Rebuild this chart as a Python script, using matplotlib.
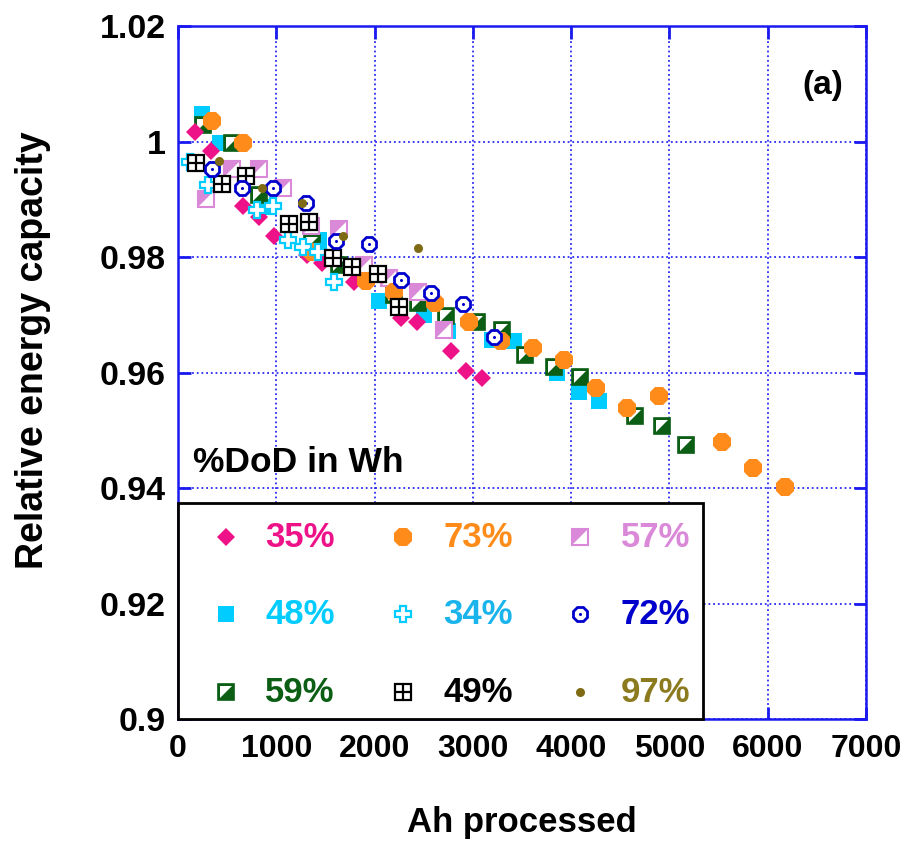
import matplotlib
matplotlib.use("Agg")
import matplotlib.pyplot as plt
from matplotlib.patches import Rectangle

plt.rcParams['font.family'] = ['Liberation Sans', 'DejaVu Sans']
plt.rcParams['font.weight'] = 'bold'

# ---- data: relative energy capacity vs Ah processed, one series per %DoD ----
ah_35 = [169, 333, 661, 825, 978, 1317, 1470, 1788, 2270, 2433, 2782, 2935, 3089]
cap_35 = [1.0017, 0.9983, 0.9889, 0.9870, 0.9837, 0.9803, 0.9789, 0.9756, 0.9695, 0.9688, 0.9638, 0.9602, 0.9591]

ah_73 = [343, 661, 1368, 1911, 2197, 2613, 2961, 3289, 3607, 3924, 4252, 4570, 4898, 5533, 5851, 6178]
cap_73 = [1.0036, 0.9998, 0.9809, 0.9758, 0.9739, 0.9720, 0.9688, 0.9654, 0.9643, 0.9621, 0.9574, 0.9539, 0.9560, 0.9479, 0.9435, 0.9401]

ah_57 = [282, 548, 825, 1071, 1358, 1634, 1890, 2146, 2444, 2710]
cap_57 = [0.9900, 0.9952, 0.9952, 0.9920, 0.9853, 0.9848, 0.9787, 0.9764, 0.9740, 0.9674]

ah_48 = [241, 425, 866, 1430, 2044, 2505, 2751, 3192, 3417, 3857, 4083, 4288]
cap_48 = [1.0047, 0.9998, 0.9887, 0.9830, 0.9723, 0.9700, 0.9671, 0.9657, 0.9654, 0.9600, 0.9567, 0.9550]

ah_34 = [118, 302, 804, 968, 1122, 1276, 1429, 1583]
cap_34 = [0.9965, 0.9924, 0.9882, 0.9889, 0.9830, 0.9818, 0.9809, 0.9756]

ah_72 = [343, 651, 968, 1306, 1604, 1942, 2270, 2577, 2895, 3212]
cap_72 = [0.9953, 0.9920, 0.9919, 0.9893, 0.9827, 0.9823, 0.9761, 0.9738, 0.9718, 0.9661]

ah_59 = [251, 548, 825, 1368, 1634, 1880, 2198, 2444, 2730, 3038, 3294, 3530, 3827, 4093, 4647, 4923, 5169]
cap_59 = [1.0029, 0.9998, 0.9908, 0.9825, 0.9787, 0.9770, 0.9735, 0.9721, 0.9697, 0.9688, 0.9674, 0.9631, 0.9609, 0.9593, 0.9524, 0.9508, 0.9475]

ah_49 = [179, 446, 692, 1132, 1337, 1573, 1767, 2034, 2249]
cap_49 = [0.9962, 0.9926, 0.9941, 0.9858, 0.9861, 0.9799, 0.9783, 0.9770, 0.9714]

ah_97 = [415, 856, 1265, 1675, 2444]
cap_97 = [0.9967, 0.9919, 0.9894, 0.9837, 0.9816]

dod_labels = ['35%', '73%', '57%', '48%', '34%', '72%', '59%', '49%', '97%']

x_ticks = [0, 1000, 2000, 3000, 4000, 5000, 6000, 7000]
y_ticks = [0.9, 0.92, 0.94, 0.96, 0.98, 1.0, 1.02]
y_ticklabels = ['0.9', '0.92', '0.94', '0.96', '0.98', '1', '1.02']

# ---- colours ----
PINK = '#EE1289'
ORANGE = '#FF8C1A'
ORCHID = '#DA88D8'
SKY = '#00CCFF'
SKY2 = '#1AB4EC'
BLUE = '#0000CC'
GREEN = '#0B5E14'
BLACK = '#000000'
OLIVE = '#7F6B14'
GRIDBLUE = '#2B2BF5'
SPINEBLUE = '#1A1AF0'

text_colors = {'35%': PINK, '73%': ORANGE, '57%': ORCHID, '48%': SKY, '34%': SKY2,
               '72%': BLUE, '59%': GREEN, '49%': BLACK, '97%': '#8B7B1E'}

UL_TRI = [(-0.5, -0.5), (-0.5, 0.5), (0.5, 0.5)]


def draw_series(ax, x, y, label, z, clip=True):
    kw = dict(ls='none', clip_on=clip)
    if label == '35%':
        ax.plot(x, y, marker='D', ms=9, mfc=PINK, mec=PINK, mew=0, zorder=z, **kw)
    elif label == '73%':
        ax.plot(x, y, marker='8', ms=13.5, mfc=ORANGE, mec=ORANGE, mew=0, zorder=z, **kw)
    elif label == '57%':
        ax.plot(x, y, marker='s', ms=11, mfc='white', mec=ORCHID, mew=1.5, zorder=z, **kw)
        ax.plot(x, y, marker=UL_TRI, ms=11, mfc=ORCHID, mec=ORCHID, mew=0, zorder=z + 0.01, **kw)
    elif label == '48%':
        ax.plot(x, y, marker='s', ms=11.5, mfc=SKY, mec=SKY, mew=0, zorder=z, **kw)
    elif label == '34%':
        ax.plot(x, y, marker='P', ms=11, mfc='white', mec=SKY, mew=1.6, zorder=z, **kw)
    elif label == '72%':
        ax.plot(x, y, marker='8', ms=11.5, mfc='white', mec=BLUE, mew=2.0, zorder=z, **kw)
        ax.plot(x, y, marker='o', ms=2.2, mfc=BLUE, mec=BLUE, mew=0, zorder=z + 0.01, **kw)
    elif label == '59%':
        ax.plot(x, y, marker='s', ms=11, mfc=GREEN, mec=GREEN, mew=1.2, zorder=z, **kw)
        ax.plot(x, y, marker=UL_TRI, ms=8, mfc='white', mec='white', mew=0, zorder=z + 0.01, **kw)
    elif label == '49%':
        ax.plot(x, y, marker='s', ms=11, mfc='white', mec=BLACK, mew=1.6, zorder=z, **kw)
        ax.plot(x, y, marker='+', ms=11, mec=BLACK, mew=1.6, zorder=z + 0.01, **kw)
    elif label == '97%':
        ax.plot(x, y, marker='o', ms=6.5, mfc=OLIVE, mec=OLIVE, mew=0, zorder=z, **kw)


fig = plt.figure(figsize=(9.14, 8.41), dpi=100)
ax = fig.add_axes([178 / 914, 1 - 719 / 841, (866 - 178) / 914, (719 - 26) / 841])

ax.set_xlim(0, 7000)
ax.set_ylim(0.9, 1.02)
ax.set_xticks(x_ticks)
ax.set_yticks(y_ticks)
ax.set_yticklabels(y_ticklabels)
ax.set_axisbelow(True)
ax.grid(True, color=GRIDBLUE, ls=(0, (1, 1.6)), lw=1.3)

for s in ax.spines.values():
    s.set_color(SPINEBLUE)
    s.set_linewidth(1.8)

ax.tick_params(axis='both', direction='in', length=9, width=2, color=SPINEBLUE,
               top=True, right=True, labelcolor='black')
ax.tick_params(axis='x', labelsize=23, pad=11)
ax.tick_params(axis='y', labelsize=24.5, pad=9)
for lab in ax.get_xticklabels() + ax.get_yticklabels():
    lab.set_fontweight('bold')

ax.set_xlabel('Ah processed', fontsize=25, fontweight='bold', labelpad=30)
ax.set_ylabel('Relative energy capacity', fontsize=27, fontweight='bold')
ax.yaxis.set_label_coords(-0.185, 0.532)

# series, drawn in stacking order
series = {
    '48%': (ah_48, cap_48),
    '59%': (ah_59, cap_59),
    '57%': (ah_57, cap_57),
    '35%': (ah_35, cap_35),
    '73%': (ah_73, cap_73),
    '34%': (ah_34, cap_34),
    '49%': (ah_49, cap_49),
    '72%': (ah_72, cap_72),
    '97%': (ah_97, cap_97),
}
for i, (lab, (xs, ys)) in enumerate(series.items()):
    draw_series(ax, xs, ys, lab, 3 + i * 0.1)

# legend panel in the lower left corner
ax.add_patch(Rectangle((0, 0.9), 5343, 0.03747, facecolor='white', edgecolor='black',
                       lw=2, zorder=10, clip_on=False))
marker_x = [487, 2290, 4093]
text_x = [886, 2700, 4503]
row_y = [0.93150, 0.91815, 0.90465]
for k, lab in enumerate(dod_labels):
    r, c = divmod(k, 3)
    draw_series(ax, [marker_x[c]], [row_y[r]], lab, 11, clip=False)
    ax.text(text_x[c], row_y[r], lab, fontsize=25, fontweight='bold', color=text_colors[lab],
            ha='left', va='center', zorder=12)

ax.text(148, 0.9444, '%DoD in Wh', fontsize=25.5, fontweight='bold', ha='left', va='center', zorder=12)
ax.text(6562, 1.0097, '(a)', fontsize=24, fontweight='bold', ha='center', va='center', zorder=12)

fig.savefig('out.png', dpi=100)
